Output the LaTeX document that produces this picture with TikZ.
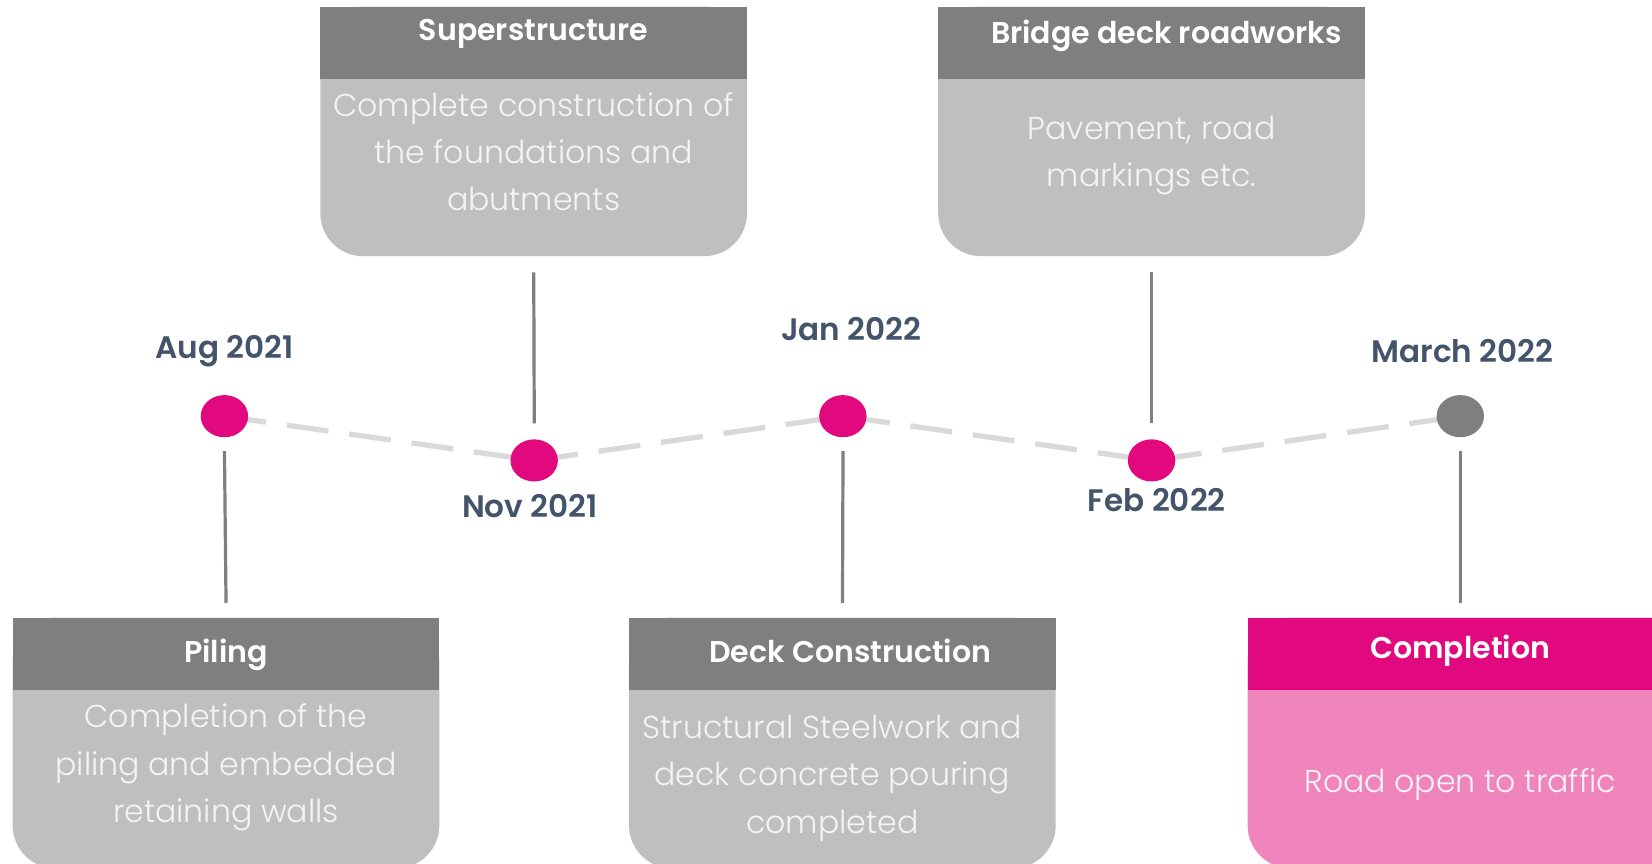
\documentclass[tikz,border=0pt]{standalone}
\usepackage{fontspec}
\setmainfont{Poppins}[UprightFont=* Light, BoldFont=* SemiBold]
\usetikzlibrary{shapes.geometric}
\pgfdeclarelayer{bg}
\pgfsetlayers{bg,main}
\definecolor{hdr}{HTML}{7F7F7F}
\definecolor{bdy}{HTML}{BFBFBF}
\definecolor{pinkh}{HTML}{E2097E}
\definecolor{pinkb}{HTML}{F084BC}
\definecolor{datec}{HTML}{44546A}
\definecolor{dashc}{HTML}{D9D9D9}
\definecolor{txtc}{HTML}{F4F4F4}
\tikzset{
  boxbody/.style={fill=bdy, rounded corners=43pt, minimum width=405pt, inner sep=0pt, draw=none},
  boxhead/.style={fill=hdr, minimum width=405pt, minimum height=69pt, inner sep=0pt, anchor=north},
  headtxt/.style={text=white, font=\fontsize{28.5}{32}\selectfont\bfseries},
  bodytxt/.style={text=txtc, align=center, font=\fontsize{30}{45}\selectfont},
  dot/.style={ellipse, fill=pinkh, minimum width=45pt, minimum height=40pt, inner sep=0pt},
  datelbl/.style={text=datec, font=\fontsize{29.5}{32}\selectfont\bfseries},
  conn/.style={draw=hdr, line width=3.2pt},
  dashline/.style={draw=dashc, line width=5.3pt, dash pattern=on 42pt off 21pt}
}
\begin{document}
\begin{tikzpicture}[x=1pt,y=-1pt,scale=1.05357, every node/.append style={transform shape}]
\useasboundingbox (0,0) rectangle (1568,820);
\clip (0,0) rectangle (1568,820);
% dots
\node[dot] (aug) at (213,395) {};
\node[dot] (nov) at (507,437) {};
\node[dot] (jan) at (800,395) {};
\node[dot] (feb) at (1093,437) {};
\node[dot, fill=hdr] (mar) at (1386,395) {};
\begin{pgfonlayer}{bg}
\draw[dashline] (aug.center) -- (nov.center) -- (jan.center) -- (feb.center) -- (mar.center);
\end{pgfonlayer}
% date labels
\node[datelbl] (laug) at (213,333) {Aug 2021};
\node[datelbl] (lnov) at (503,480) {Nov 2021};
\node[datelbl] (ljan) at (808,312) {Jan 2022};
\node[datelbl] (lfeb) at (1098,475) {Feb 2022};
\node[datelbl] (lmar) at (1388,333) {March 2022};
% top boxes
\node[boxbody, minimum height=237pt, anchor=north] (sup) at (506.5,6) {};
\node[boxhead] (suph) at (sup.north) {};
\node[headtxt] at (506.5,32) {Superstructure};
\node[bodytxt] (supt) at (506.5,144) {Complete construction of\\the foundations and\\abutments};
\node[boxbody, minimum height=237pt, anchor=north] (brd) at (1093,6) {};
\node[boxhead] (brdh) at (brd.north) {};
\node[headtxt] at (1107,34) {Bridge deck roadworks};
\node[bodytxt] (brdt) at (1093,147.5) {Pavement, road\\markings etc.};
% bottom boxes
\node[boxbody, minimum height=238pt, anchor=north] (pil) at (214.5,586) {};
\node[boxhead] (pilh) at (pil.north) {};
\node[headtxt] at (214.5,622) {Piling};
\node[bodytxt] (pilt) at (214.5,728.5) {Completion of the\\piling and embedded\\retaining walls};
\node[boxbody, minimum height=238pt, anchor=north] (dck) at (799.5,586) {};
\node[boxhead] (dckh) at (dck.north) {};
\node[headtxt] at (807,618) {Deck Construction};
\node[bodytxt] (dckt) at (790,738.5) {Structural Steelwork and\\deck concrete pouring\\completed};
\node[boxbody, fill=pinkb, minimum width=520pt, minimum height=238pt, anchor=north west] (cmp) at (1184,586) {};
\node[boxhead, fill=pinkh, minimum width=520pt, anchor=north west] (cmph) at (cmp.north west) {};
\node[headtxt] at (1386,618) {Completion};
\node[bodytxt] (cmpt) at (1386,745) {Road open to traffic};
% connectors
\draw[conn] ([yshift=-13pt]aug.south) -- ([yshift=14pt]pil.north);
\draw[conn] ([yshift=-13pt]jan.south) -- ([yshift=14pt]dck.north);
\draw[conn] ([yshift=-13pt]mar.south) -- ([yshift=14pt]mar.south |- cmp.north);
\draw[conn] ([yshift=15pt]nov.north) -- ([yshift=-15pt]sup.south);
\draw[conn] ([yshift=15pt]feb.north) -- ([yshift=-15pt]brd.south);
\end{tikzpicture}
\end{document}
